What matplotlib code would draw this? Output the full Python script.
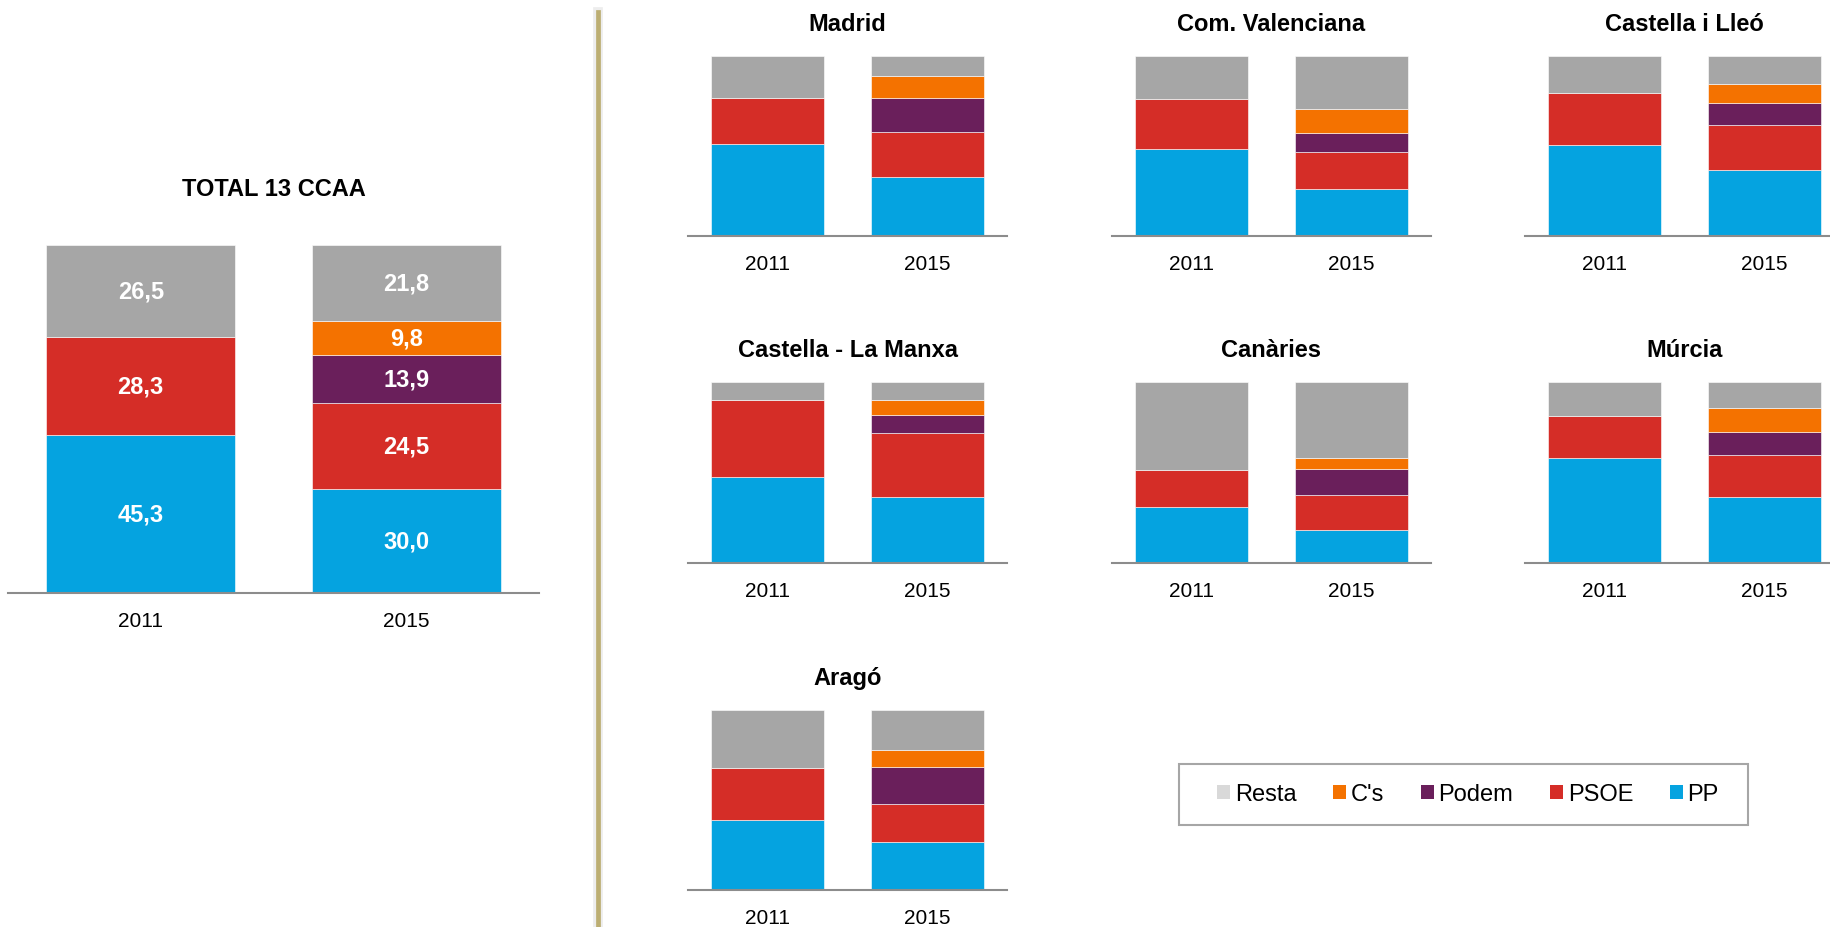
import matplotlib.pyplot as plt
from matplotlib.lines import Line2D
from matplotlib.patches import Patch, Rectangle

plt.rcParams['font.family'] = ['Liberation Sans', 'DejaVu Sans']

# parties, bottom to top of each stack
parties = ["PP", "PSOE", "Podem", "C's", "Resta"]
colors = ["#05a3e0", "#d52d27", "#6a1f5b", "#f47200", "#a6a6a6"]
legend_colors = ["#05a3e0", "#d52d27", "#6a1f5b", "#f47200", "#d9d9d9"]
years = ["2011", "2015"]

# vote share (%), same order as parties
total_2011 = [45.3, 28.3, 0, 0, 26.5]
total_2015 = [30.0, 24.5, 13.9, 9.8, 21.8]

madrid_2011 = [51.1, 25.6, 0, 0, 23.3]
madrid_2015 = [32.8, 25.0, 18.9, 12.2, 11.1]
valencia_2011 = [48.3, 27.8, 0, 0, 23.9]
valencia_2015 = [26.0, 20.4, 11.1, 12.8, 29.7]
cyl_2011 = [50.6, 29.1, 0, 0, 20.3]
cyl_2015 = [36.9, 25.0, 12.0, 10.4, 15.7]
clm_2011 = [47.4, 42.4, 0, 0, 10.2]
clm_2015 = [36.4, 35.2, 10.0, 8.5, 9.9]
canarias_2011 = [31.2, 20.3, 0, 0, 48.5]
canarias_2015 = [18.3, 19.5, 14.2, 5.9, 42.1]
murcia_2011 = [58.1, 23.2, 0, 0, 18.7]
murcia_2015 = [36.7, 23.1, 12.7, 12.9, 14.6]
aragon_2011 = [38.9, 28.7, 0, 0, 32.4]
aragon_2015 = [26.9, 21.1, 20.4, 9.6, 22.0]

regions = ["Madrid", "Com. Valenciana", "Castella i Lleó",
           "Castella - La Manxa", "Canàries", "Múrcia", "Aragó"]
region_values = [(madrid_2011, madrid_2015), (valencia_2011, valencia_2015),
                 (cyl_2011, cyl_2015), (clm_2011, clm_2015),
                 (canarias_2011, canarias_2015), (murcia_2011, murcia_2015),
                 (aragon_2011, aragon_2015)]

W, H = 1831, 928


def box(left, top, right, base):
    # pixel box -> figure fraction
    return [left / W, 1 - base / H, (right - left) / W, (base - top) / H]


def draw_panel(ax, title, v2011, v2015, title_pad, labels=False):
    for i, vals in enumerate([v2011, v2015]):
        bottom = 0
        for val, col in zip(vals, colors):
            if val > 0:
                ax.bar(i, val, bottom=bottom, width=0.71, color=col,
                       edgecolor='white', linewidth=0.4)
                if labels:
                    ax.text(i, bottom + val / 2, f"{val:.1f}".replace('.', ','),
                            ha='center', va='center', color='white',
                            fontsize=17, fontweight='bold')
            bottom += val
    ax.set_xlim(-0.5, 1.5)
    ax.set_ylim(0, 100)
    ax.set_xticks([0, 1])
    ax.set_xticklabels(years, fontsize=15)
    ax.set_yticks([])
    ax.tick_params(axis='x', length=0, pad=13)
    for s in ['top', 'left', 'right']:
        ax.spines[s].set_visible(False)
    ax.spines['bottom'].set_color('#8c8c8c')
    ax.spines['bottom'].set_linewidth(1.5)
    ax.set_title(title, fontsize=17, fontweight='bold', pad=title_pad)


fig = plt.figure(figsize=(W / 100, H / 100), dpi=100)

# total panel
ax = fig.add_axes(box(8, 246, 539, 594))
draw_panel(ax, "TOTAL 13 CCAA", total_2011, total_2015, 36, labels=True)

# small panels
col_left = [688, 1112, 1525]
row_top = [57, 383, 711]
row_base = [237, 564, 891]
for k, (name, (v11, v15)) in enumerate(zip(regions, region_values)):
    r, c = divmod(k, 3)
    ax = fig.add_axes(box(col_left[c], row_top[r], col_left[c] + 319, row_base[r]))
    draw_panel(ax, name, v11, v15, 19)

# divider
x = 598 / W
fig.add_artist(Line2D([x, x], [0, 1 - 13 / H], color='#e6e6e6', linewidth=7,
                      alpha=0.7, transform=fig.transFigure))
fig.add_artist(Line2D([x, x], [0, 1 - 13 / H], color='#bcae72', linewidth=3.4,
                      transform=fig.transFigure))

# legend box and entries
fig.add_artist(Rectangle((1179 / W, 1 - 826 / H), 569 / W, 61 / H,
                         transform=fig.transFigure, facecolor='white',
                         edgecolor='#a6a6a6', linewidth=1.5))
handles = [Patch(facecolor=c, edgecolor='none') for c in legend_colors[::-1]]
fig.legend(handles, parties[::-1], loc='center', ncol=5,
           bbox_to_anchor=(1468 / W, 1 - 795 / H), fontsize=17,
           frameon=False, handlelength=0.55, handleheight=0.55,
           handletextpad=0.2, columnspacing=1.55, borderpad=0)

fig.savefig("out.png", dpi=100)
